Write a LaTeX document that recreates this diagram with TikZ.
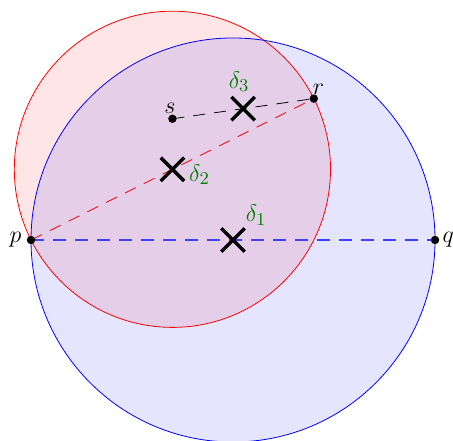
\documentclass[tikz,border=0pt]{standalone}
\usetikzlibrary{shapes.misc,positioning}
\tikzset{
  xmark/.style={cross out,draw=black,line width=1.7pt,minimum size=10pt,inner sep=0pt},
  dot/.style={circle,fill=black,minimum size=4.2pt,inner sep=0pt},
  dlabel/.style={text=green!50!black}
}
\begin{document}
\begin{tikzpicture}[x=0.887cm,y=0.887cm,font=\fontsize{13}{15}\selectfont]
\useasboundingbox (-4.614,-3.98) rectangle (4.356,4.752);

\coordinate (p) at (-4,0);
\coordinate (q) at (4,0);
\coordinate (r) at (1.6,2.8);
\coordinate (s) at (-1.2,2.4);

% the two discs
\fill[red,fill opacity=0.1] (-1.2,1.4) circle (3.1305);
\fill[blue,fill opacity=0.1] (0,0) circle (4);
\draw[red] (-1.2,1.4) circle (3.1305);
\draw[blue] (0,0) circle (4);

\draw[blue!75,line width=0.75pt,dash pattern=on 6.5pt off 4.5pt] (p) -- (q);
\draw[red,dash pattern=on 6pt off 4.5pt] (p) -- (r);
\draw[black,dash pattern=on 6pt off 4.5pt] (s) -- (r);

\node[xmark] (d1) at (0,0) {};
\node[xmark] (d2) at (-1.2,1.4) {};
\node[xmark] (d3) at (0.2,2.6) {};
\node[dlabel,above right=-2pt and -3pt of d1.north east] (l1) {$\delta_1$};
\node[dlabel,below right=-6pt and -1pt of d2.east] (l2) {$\delta_2$};
\node[dlabel,above=-1pt of d3.north,xshift=-2pt] (l3) {$\delta_3$};

\node[dot] (np) at (p) {};
\node[dot] (nq) at (q) {};
\node[dot] (nr) at (r) {};
\node[dot] (ns) at (s) {};
\node[left=-1pt of np.west] (lp) {$p$};
\node[right=-2pt of nq.east] (lq) {$q$};
\node[above right=-4pt and -4pt of nr.north] (lr) {$r$};
\node[above left=-3pt and -5pt of ns.north] (ls) {$s$};
\end{tikzpicture}
\end{document}
